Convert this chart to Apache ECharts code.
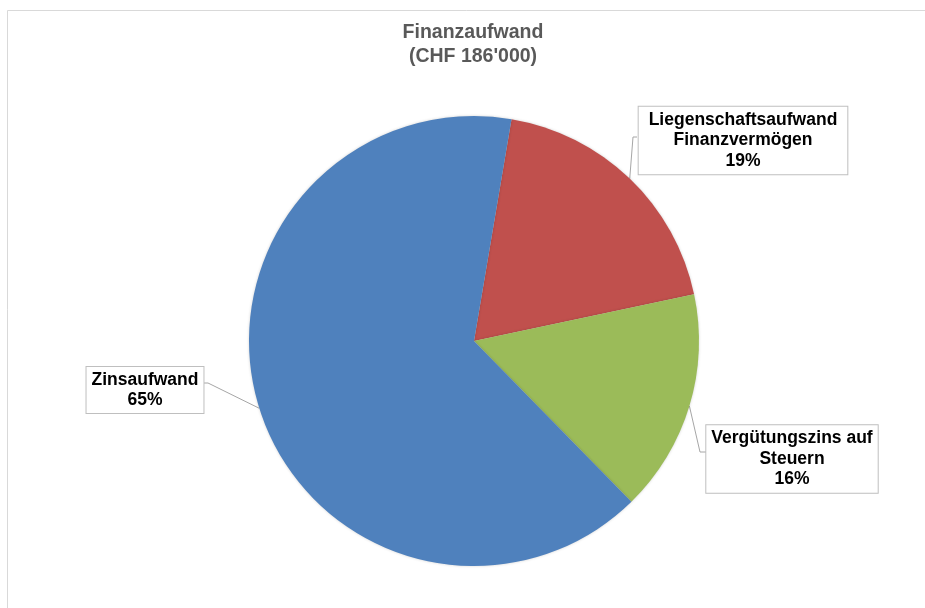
<!DOCTYPE html>
<html>
<head>
<meta charset="utf-8">
<script src="https://cdn.jsdelivr.net/npm/echarts@6/dist/echarts.min.js"></script>
<style>
  html, body { margin: 0; padding: 0; background: #ffffff; }
  #chart { width: 925px; height: 608px; }
</style>
</head>
<body>
<div id="chart"></div>
<script>
// Finanzaufwand nach Kategorie (Anteile in %)
const categories = ['Liegenschaftsaufwand\nFinanzvermögen', 'Vergütungszins auf\nSteuern', 'Zinsaufwand'];
const shares = [19, 16, 65];
const sliceColors = ['#c0504d', '#9bbb59', '#4f81bd'];

// Lage der Beschriftungskästen: Mittelpunkt, Breite, Höhe
const boxes = [
  { cx: 743, cy: 140.5, w: 212, h: 66, pad: [6, 10, 0, 10] },
  { cx: 792, cy: 459, w: 172, h: 65, pad: [6, 5, 0, 5] },
  { cx: 145, cy: 390, w: 116, h: 45, pad: [4, 5, 1, 5] }
];

const FONT = "'Liberation Sans', Arial, sans-serif";
const chart = echarts.init(document.getElementById('chart'), null, { renderer: 'canvas' });

chart.setOption({
  backgroundColor: '#ffffff',
  animation: false,
  title: {
    text: "Finanzaufwand\n(CHF 186'000)",
    left: 473,
    top: 21,
    padding: 0,
    textAlign: 'center',
    textStyle: {
      fontFamily: FONT,
      fontSize: 19.5,
      fontWeight: 'bold',
      color: '#595959',
      lineHeight: 23.5
    }
  },
  graphic: [{
    type: 'rect',
    silent: true,
    shape: { x: 7.5, y: 10.5, width: 1000, height: 1000 },
    style: { fill: 'none', stroke: '#d9d9d9', lineWidth: 1 }
  }],
  series: [{
    type: 'pie',
    center: [474, 341],
    radius: 225,
    startAngle: 80.4,
    clockwise: true,
    percentPrecision: 0,
    avoidLabelOverlap: false,
    itemStyle: {
      shadowBlur: 3,
      shadowColor: 'rgba(0,0,0,0.18)'
    },
    label: {
      show: true,
      position: 'outside',
      formatter: '{b}\n{d}%',
      fontFamily: FONT,
      fontSize: 17.5,
      fontWeight: 'bold',
      color: '#000000',
      lineHeight: 20.5,
      align: 'center',
      backgroundColor: '#ffffff',
      borderColor: '#bfbfbf',
      borderWidth: 1
    },
    labelLine: {
      show: true,
      length: 10,
      length2: 10,
      lineStyle: { color: '#a6a6a6', width: 1 }
    },
    labelLayout: function (params) {
      const b = boxes[params.dataIndex];
      const edge = params.labelLinePoints[0];
      const left = b.cx - b.w / 2;
      const right = b.cx + b.w / 2;
      let pts;
      if (params.dataIndex === 0) {
        pts = [edge, [left - 4, b.cy - 3.5], [left, b.cy - 3.5]];
      } else if (params.dataIndex === 1) {
        pts = [edge, [left - 6, b.cy - 7], [left, b.cy - 7]];
      } else {
        pts = [edge, [right + 5, b.cy - 7], [right, b.cy - 7]];
      }
      return {
        x: b.cx,
        y: b.cy,
        align: 'center',
        verticalAlign: 'middle',
        labelLinePoints: pts
      };
    },
    data: categories.map((name, i) => ({
      name: name,
      value: shares[i],
      itemStyle: { color: sliceColors[i] },
      label: { padding: boxes[i].pad }
    }))
  }]
});
</script>
</body>
</html>
